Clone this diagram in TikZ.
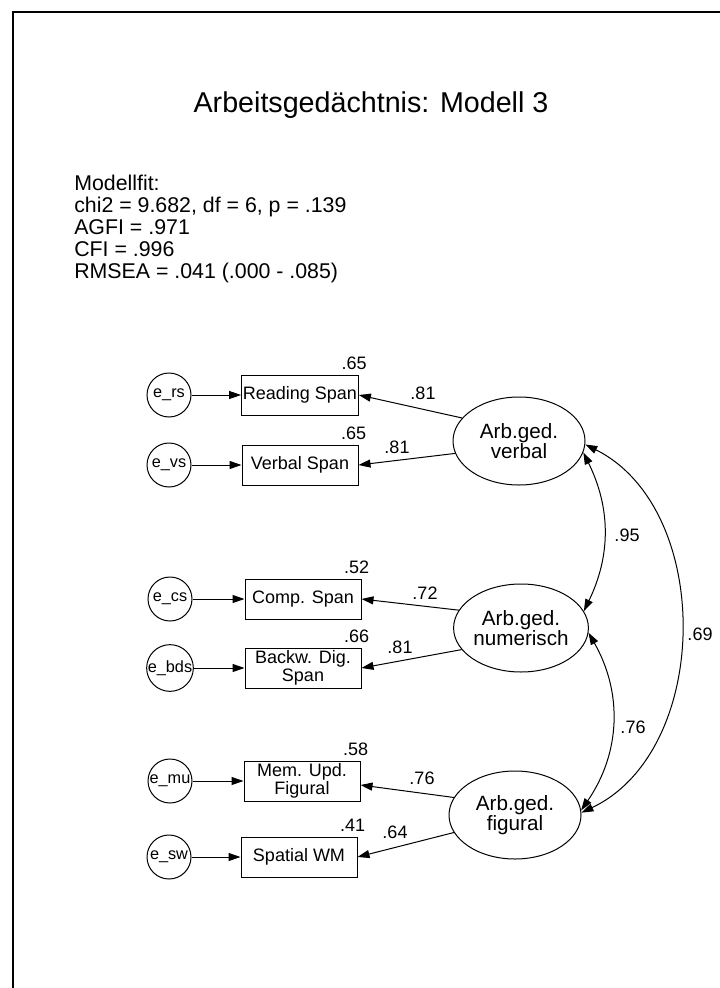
\documentclass[tikz,border=0pt]{standalone}
\usepackage{fontspec}
\setmainfont{Liberation Sans}
\usetikzlibrary{arrows.meta,shapes.geometric}
\begin{document}
\begin{tikzpicture}[x=0.75pt, y=-0.75pt,
    var/.style={draw, line width=0.75pt, minimum width=87pt, minimum height=30pt, inner sep=1pt,
                align=center, font=\fontsize{13.5}{12}\selectfont},
    lat/.style={draw, ellipse, line width=0.75pt, minimum width=99pt, minimum height=66pt,
                inner sep=0pt, align=center, font=\fontsize{15.5}{15}\selectfont},
    err/.style={draw, circle, line width=0.75pt, minimum size=33pt, inner sep=0pt,
                font=\fontsize{12.2}{14}\selectfont},
    num/.style={inner sep=0pt, font=\fontsize{13.5}{16}\selectfont},
    arr/.style={-{Triangle[length=9pt,width=6pt]}, line width=0.75pt},
    cov/.style={{Triangle[length=9pt,width=6pt]}-{Triangle[length=9pt,width=6pt]}, line width=0.75pt},
]
\useasboundingbox (0,0) rectangle (720,988);
\draw[line width=1.5pt] (13,988) -- (13,12) -- (720,12);

\node[font=\fontsize{21.5}{26}\selectfont, anchor=base] (title) at (371,113) {Arbeitsgedächtnis: Modell 3};
\node[font=\fontsize{16}{16.5}\selectfont, align=left, anchor=north west, inner sep=0pt] (fit) at (74,175)
    {Modellfit:\\chi2 = 9.682, df = 6, p = .139\\AGFI = .971\\CFI = .996\\RMSEA = .041 (.000 - .085)};

\node[var] (rs)  at (300,395) {Reading Span};
\node[var] (vs)  at (300,465) {Verbal Span};
\node[var] (cs)  at (303,599) {Comp. Span};
\node[var] (bds) at (303,668) {Backw. Dig.\\Span};
\node[var] (mu)  at (302,781) {Mem. Upd.\\Figural};
\node[var] (sw)  at (299,857) {Spatial WM};

\node[err] (ers)  at (169,395) {e\_rs};
\node[err] (evs)  at (169,465) {e\_vs};
\node[err] (ecs)  at (170,599) {e\_cs};
\node[err] (ebds) at (170,668) {e\_bds};
\node[err] (emu)  at (170,781) {e\_mu};
\node[err] (esw)  at (169,857) {e\_sw};

\node[lat] (verbal)  at (519,441) {Arb.ged.\\verbal};
\node[lat] (numer)   at (521,628) {Arb.ged.\\numerisch};
\node[lat] (figural) at (515,815) {Arb.ged.\\figural};

\node[num, anchor=base east] (r1) at ([xshift=6pt,yshift=3.75pt]rs.north east)  {.65};
\node[num, anchor=base east] (r2) at ([xshift=6pt,yshift=3.75pt]vs.north east)  {.65};
\node[num, anchor=base east] (r3) at ([xshift=6pt,yshift=3.75pt]cs.north east)  {.52};
\node[num, anchor=base east] (r4) at ([xshift=6pt,yshift=3.75pt]bds.north east) {.66};
\node[num, anchor=base east] (r5) at ([xshift=6pt,yshift=3.75pt]mu.north east)  {.58};
\node[num, anchor=base east] (r6) at ([xshift=6pt,yshift=3.75pt]sw.north east)  {.41};

\draw[arr] (ers) -- (rs);
\draw[arr] (evs) -- (vs);
\draw[arr] (ecs) -- (cs);
\draw[arr] (ebds) -- (bds);
\draw[arr] (emu) -- (mu);
\draw[arr] (esw) -- (sw);

\draw[arr] (verbal.158) -- (rs.east);
\draw[arr] (verbal.191) -- (vs.east);
\draw[arr] (numer.164) -- (cs.east);
\draw[arr] (numer.200) -- (bds.east);
\draw[arr] (figural.164) -- ([yshift=-3pt]mu.east);
\draw[arr] (figural.196) -- (sw.east);

\node[num] (l1) at (423,393) {.81};
\node[num] (l2) at (397,447) {.81};
\node[num] (l3) at (425,593) {.72};
\node[num] (l4) at (400,647) {.81};
\node[num] (l5) at (422,778) {.76};
\node[num] (l6) at (395,832) {.64};

\draw[cov] (verbal.-10) to[bend left=26] (numer.15);
\draw[cov] (numer.-4) to[bend left=32] (figural.4);
\draw[cov] (verbal.-3) to[bend left=64] (figural.2);

\node[num] (c1) at (627,535) {.95};
\node[num] (c2) at (633,727) {.76};
\node[num] (c3) at (700,634) {.69};
\end{tikzpicture}
\end{document}
